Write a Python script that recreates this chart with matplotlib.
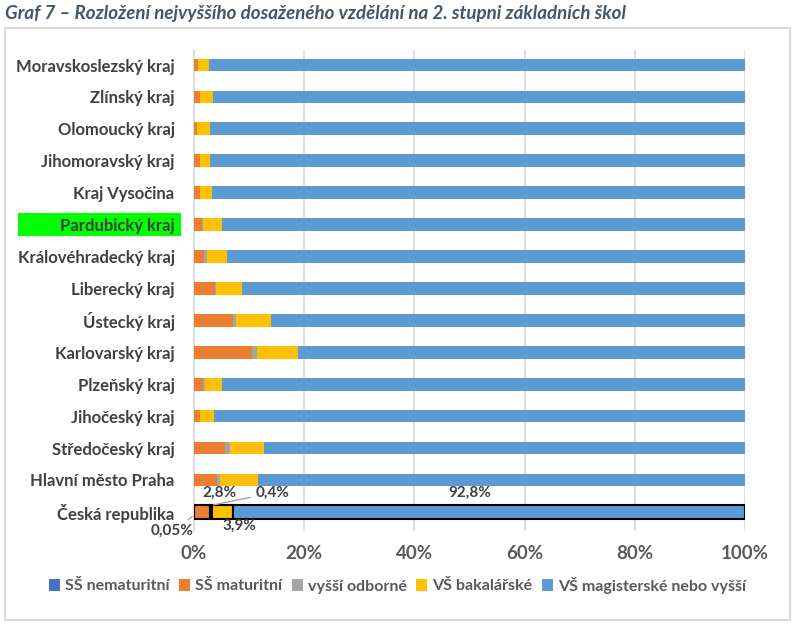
import matplotlib
matplotlib.use('Agg')
import matplotlib.pyplot as plt
import matplotlib.transforms as mtransforms
from matplotlib.patches import Rectangle
import numpy as np

plt.rcParams['font.family'] = ['Lato', 'DejaVu Sans']

# Data (top to bottom as in the chart)
regions = ['Moravskoslezský kraj', 'Zlínský kraj', 'Olomoucký kraj', 'Jihomoravský kraj',
           'Kraj Vysočina', 'Pardubický kraj', 'Královéhradecký kraj', 'Liberecký kraj',
           'Ústecký kraj', 'Karlovarský kraj', 'Plzeňský kraj', 'Jihočeský kraj',
           'Středočeský kraj', 'Hlavní město Praha', 'Česká republika']
ss_nemat = [0.0, 0.0, 0.0, 0.0, 0.0, 0.0, 0.0, 0.0, 0.0, 0.0, 0.0, 0.0, 0.0, 0.0, 0.05]
ss_mat = [0.8, 1.1, 0.5, 1.1, 1.1, 1.5, 1.8, 3.9, 7.1, 10.5, 1.6, 1.1, 5.6, 4.2, 2.8]
vos = [0.0, 0.0, 0.0, 0.0, 0.0, 0.2, 0.5, 0.1, 0.5, 0.9, 0.4, 0.0, 0.9, 0.5, 0.4]
vs_bc = [1.9, 2.4, 2.4, 1.8, 2.2, 3.3, 3.7, 4.8, 6.4, 7.4, 3.1, 2.5, 6.2, 6.9, 3.9]
vs_mgr = [97.3, 96.5, 97.1, 97.1, 96.7, 95.0, 94.0, 91.2, 86.0, 81.2, 94.9, 96.4, 87.3, 88.4, 92.8]

series = [
    ('SŠ nematuritní', ss_nemat, '#4472C4'),
    ('SŠ maturitní', ss_mat, '#ED7D31'),
    ('vyšší odborné', vos, '#A5A5A5'),
    ('VŠ bakalářské', vs_bc, '#FFC000'),
    ('VŠ magisterské nebo vyšší', vs_mgr, '#5B9BD5'),
]

fig = plt.figure(figsize=(7.95, 6.24), dpi=100)
ax = fig.add_axes([194 / 795, 1 - 531 / 624, 551 / 795, 481 / 624])

y = np.arange(len(regions))
n = len(regions)
left = np.zeros(n)
for name, vals, col in series:
    vals = np.array(vals)
    ax.barh(y[:-1], vals[:-1], left=left[:-1], height=0.4, color=col, label=name, zorder=3)
    # Česká republika bar with black outline
    ax.barh(y[-1], vals[-1], left=left[-1], height=0.42, color=col,
            edgecolor='black', linewidth=1.5, zorder=3)
    left += vals

ax.set_xlim(0, 100)
ax.set_ylim(n - 1 + 0.6, -0.47)
ax.set_yticks(y)
ax.set_yticklabels(regions, fontsize=12, fontweight='bold', color='#404040')
ax.set_xticks(np.arange(0, 101, 20))
ax.set_xticklabels([f'{v}%' for v in range(0, 101, 20)], fontsize=13.5,
                   fontweight='bold', color='#595959')
ax.tick_params(axis='both', length=0)
ax.tick_params(axis='x', pad=10)
ax.tick_params(axis='y', pad=14)
ax.grid(axis='x', color='#D9D9D9', linewidth=1.2, zorder=0)
for s in ['top', 'right', 'bottom']:
    ax.spines[s].set_visible(False)
ax.spines['left'].set_color('#D9D9D9')
ax.spines['left'].set_linewidth(1.2)

# green highlight behind Pardubický kraj
trans = mtransforms.blended_transform_factory(fig.transFigure, ax.transData)
ip = regions.index('Pardubický kraj')
ax.add_patch(Rectangle((18 / 795, ip - 0.36), 163 / 795, 0.72, transform=trans,
                       facecolor='#00FF00', edgecolor='none', clip_on=False, zorder=0))

# labels for Česká republika
cr = n - 1
akw = dict(fontsize=11, fontweight='bold', color='#404040', ha='center', va='center')
ax.text(ss_nemat[-1] + ss_mat[-1] / 2 + 3.2, cr - 0.6, '2,8%', **akw)
ax.annotate('0,4%', xy=(ss_nemat[-1] + ss_mat[-1] + vos[-1] / 2, cr - 0.2),
            xytext=(14.3, cr - 0.6), arrowprops=dict(arrowstyle='-', color='#A5A5A5', lw=1),
            **akw)
ax.text(50, cr - 0.6, '92,8%', **akw)
ax.text(ss_nemat[-1] + ss_mat[-1] + vos[-1] + vs_bc[-1] / 2 + 3, cr + 0.45, '3,9%', **akw)
ax.annotate('0,05%', xy=(0.1, cr + 0.1), xytext=(-4, cr + 0.6),
            arrowprops=dict(arrowstyle='-', color='#A5A5A5', lw=1), annotation_clip=False,
            **akw)

fig.text(5 / 795, 1 - 13 / 624,
         'Graf 7 – Rozložení nejvyššího dosaženého vzdělání na 2. stupni základních škol',
         fontsize=13.5, fontweight='bold', style='italic', color='#44546A', va='center')

fig.patches.append(Rectangle((5 / 795, 4 / 624), 785 / 795, 592 / 624, transform=fig.transFigure,
                             fill=False, edgecolor='#D9D9D9', linewidth=1.5))

handles, labels = ax.get_legend_handles_labels()
leg = fig.legend(handles, labels, loc='center', bbox_to_anchor=(0.5, 1 - 585 / 624), ncol=5,
                 frameon=False, handlelength=0.7, handleheight=0.7, handletextpad=0.3,
                 columnspacing=0.6, prop={'size': 11.5, 'weight': 'bold'})
for t in leg.get_texts():
    t.set_color('#595959')

fig.savefig('out.png', dpi=100)
